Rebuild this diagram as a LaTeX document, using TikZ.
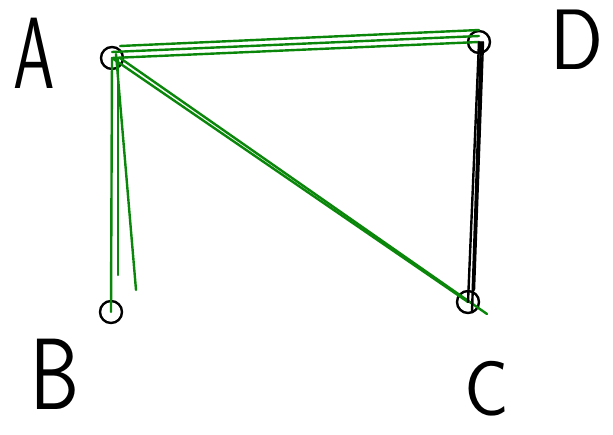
\documentclass[tikz,border=0pt]{standalone}
\usepackage{fontspec}
\begin{document}
\begin{tikzpicture}[x=1pt,y=-1pt,
  vtx/.style={circle,draw=black,line width=2.4pt,minimum size=22pt,inner sep=0pt},
  lbl/.style={font=\fontsize{78}{78}\selectfont\sffamily,text=black,inner sep=0pt},
  gedge/.style={draw={rgb,255:red,10;green,135;blue,10},line width=2.4pt,line cap=round},
  bedge/.style={draw=black,line width=2.4pt,line cap=round}]
\useasboundingbox (0,0) rectangle (613,434);
\fill[white] (0,0) rectangle (613,434);
\node[vtx] (A) at (112,58) {};
\node[vtx] (B) at (111,312) {};
\node[vtx] (C) at (468,302) {};
\node[vtx] (D) at (479,42) {};
\node[lbl] (la) at (34,53) {\scalebox{0.85}[1.3]{A}};
\node[lbl] (lb) at (55,374) {\scalebox{1}[1.3]{B}};
\node[lbl] (lc) at (487,389) {\scalebox{0.95}[1.0]{C}};
\node[lbl] (ld) at (577,40) {\scalebox{1}[1.1]{D}};
\coordinate (b1) at (136,290);
\coordinate (b2) at (118,275);
\coordinate (c1) at (487,314);
\coordinate (d1) at (474,290);
\draw[gedge] (A.center) -- (B.center);
\draw[gedge] ([xshift=6pt]A.center) -- (b2);
\draw[gedge] ([xshift=4pt,yshift=4pt]A.center) -- (b1);
\draw[gedge] (A.center) -- (D.center);
\draw[gedge] ([yshift=6pt]A.center) -- ([yshift=6pt]D.center);
\draw[gedge] ([xshift=8pt,yshift=12pt]A.center) -- ([yshift=12pt]D.center);
\draw[gedge] (A.center) -- (C.center);
\draw[gedge] ([xshift=8pt]A.center) -- (c1);
\draw[bedge] (D.center) -- (C.center);
\draw[bedge] ([xshift=4pt]D.center) -- (d1);
\draw[bedge] ([xshift=2pt]D.center) -- ([xshift=4pt,yshift=-10pt]C.center);
\end{tikzpicture}
\end{document}
